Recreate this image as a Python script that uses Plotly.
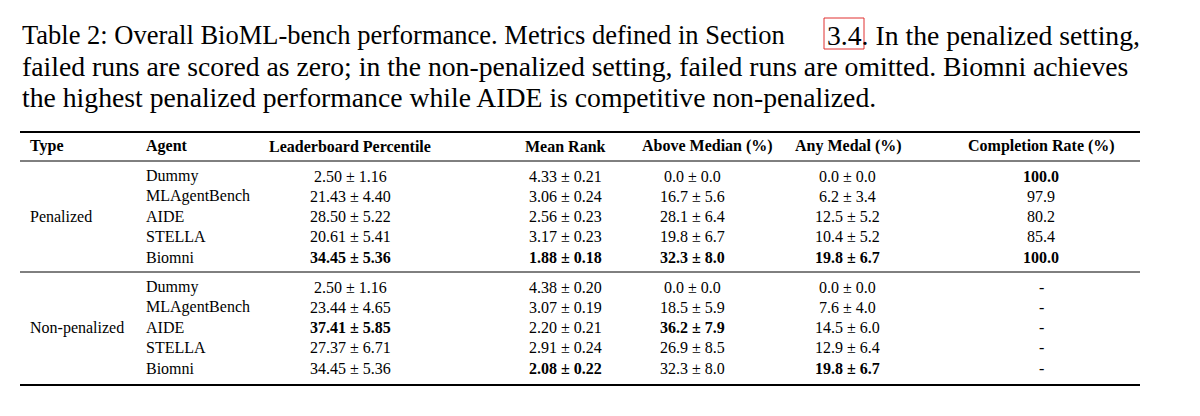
import plotly.graph_objects as go

types = ["Penalized", "Non-penalized"]
agents = ["Dummy", "MLAgentBench", "AIDE", "STELLA", "Biomni"]
headers = ["Type", "Agent", "Leaderboard Percentile", "Mean Rank", "Above Median (%)", "Any Medal (%)", "Completion Rate (%)"]
pen = [
    ["2.50 ± 1.16", "4.33 ± 0.21", "0.0 ± 0.0", "0.0 ± 0.0", "100.0"],
    ["21.43 ± 4.40", "3.06 ± 0.24", "16.7 ± 5.6", "6.2 ± 3.4", "97.9"],
    ["28.50 ± 5.22", "2.56 ± 0.23", "28.1 ± 6.4", "12.5 ± 5.2", "80.2"],
    ["20.61 ± 5.41", "3.17 ± 0.23", "19.8 ± 6.7", "10.4 ± 5.2", "85.4"],
    ["34.45 ± 5.36", "1.88 ± 0.18", "32.3 ± 8.0", "19.8 ± 6.7", "100.0"],
]
pen_bold = [[0,0,0,0,1],[0,0,0,0,0],[0,0,0,0,0],[0,0,0,0,0],[1,1,1,1,1]]
nonpen = [
    ["2.50 ± 1.16", "4.38 ± 0.20", "0.0 ± 0.0", "0.0 ± 0.0", "-"],
    ["23.44 ± 4.65", "3.07 ± 0.19", "18.5 ± 5.9", "7.6 ± 4.0", "-"],
    ["37.41 ± 5.85", "2.20 ± 0.21", "36.2 ± 7.9", "14.5 ± 6.0", "-"],
    ["27.37 ± 6.71", "2.91 ± 0.24", "26.9 ± 8.5", "12.9 ± 6.4", "-"],
    ["34.45 ± 5.36", "2.08 ± 0.22", "32.3 ± 8.0", "19.8 ± 6.7", "-"],
]
nonpen_bold = [[0,0,0,0,0],[0,0,0,0,0],[1,0,1,0,0],[0,0,0,0,0],[0,1,0,1,0]]
caption1a = "Table 2: Overall BioML-bench performance. Metrics defined in Section"
caption1b = "3.4. In the penalized setting,"
caption = [
    "failed runs are scored as zero; in the non-penalized setting, failed runs are omitted. Biomni achieves",
    "the highest penalized performance while AIDE is competitive non-penalized.",
]

F = "Liberation Serif, Times New Roman, serif"
OX, OY = -8, -8
fig = go.Figure()
ann = []
def t(x, y, s, size=16, anchor="center", bold=False):
    ann.append(dict(x=x + OX, y=y + OY, xref="x", yref="y", text=f"<b>{s}</b>" if bold else s,
                    showarrow=False, xanchor=anchor, yanchor="middle",
                    font=dict(family=F, size=size, color="black")))

t(20, 35, caption1a, size=26.5, anchor="left")
t(825, 35, caption1b, size=27.7, anchor="left")
for i, line in enumerate(caption):
    t(20, 66 + i * 31, line, size=27.7, anchor="left")

hx = [28, 144, 350, 565, 707, 848, 1041]
hanch = ["left", "left", "center", "center", "center", "center", "center"]
for x, a, h in zip(hx, hanch, headers):
    t(x, 146, h, size=16, anchor=a, bold=True)

colx = [350, 565, 692, 847, 1041]
for g, (data, bold, y0) in enumerate([(pen, pen_bold, 176), (nonpen, nonpen_bold, 287)]):
    t(28, y0 + 2 * 20.3, types[g], anchor="left")
    for r, ag in enumerate(agents):
        y = y0 + r * 20.3
        t(144, y, ag, anchor="left")
        for c, v in enumerate(data[r]):
            t(colx[c], y, v, bold=bool(bold[r][c]))

def hl(y, w):
    return dict(type="line", x0=20 + OX, x1=1140 + OX, y0=y + OY, y1=y + OY, line=dict(color="black", width=w))
shapes = [hl(132, 1.8), hl(161, 1), hl(272, 1), hl(385, 1.8),
          dict(type="rect", x0=824 + OX, x1=864 + OX, y0=18 + OY, y1=49 + OY, line=dict(color="#e03030", width=1))]
fig.update_layout(width=1200, height=416, margin=dict(l=0, r=0, t=0, b=0),
                  paper_bgcolor="white", plot_bgcolor="white",
                  xaxis=dict(range=[0, 1200], visible=False, fixedrange=True),
                  yaxis=dict(range=[416, 0], visible=False, fixedrange=True),
                  annotations=ann, shapes=shapes, showlegend=False)
fig.write_html("out.html")
